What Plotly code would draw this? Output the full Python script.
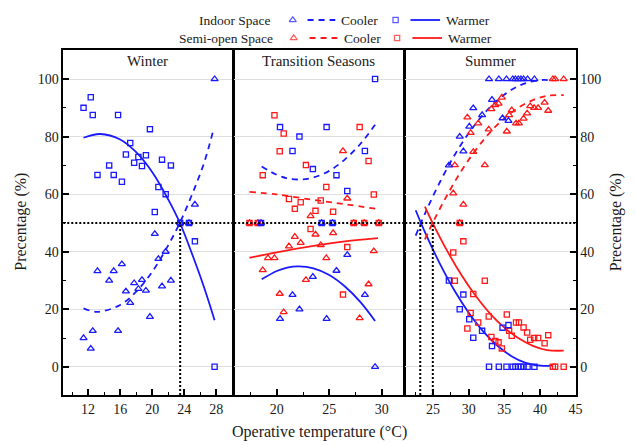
import plotly.graph_objects as go

W, H = 636, 445
BLUE = "#1a1aff"
RED = "#ff1a1a"
FONT = "Liberation Serif"

# ---------------- Winter (indoor space only) ----------------
win_t = [11.43, 12.33, 12.58, 13.17, 14.63, 15.2, 15.74, 16.22, 16.72, 17.26, 17.75,
         18.28, 18.73, 19.22, 19.72, 20.33, 20.78, 21.23, 21.69, 22.34, 23.5, 24.6, 25.34, 27.8]
win_in_warm = [90.0, 93.7, 87.5, 66.7, 70.0, 66.7, 87.5, 64.3, 73.8, 77.8, 70.9,
               72.9, 69.8, 73.5, 82.6, 53.8, 62.5, 72.0, 60.0, 70.0, 50.0, 50.0, 43.6, 0.0]
win_in_cool = [10.0, 6.3, 12.5, 33.3, 30.0, 33.3, 12.5, 35.7, 26.2, 22.2, 29.1,
               27.1, 30.2, 26.5, 17.4, 46.2, 37.5, 28.0, 40.0, 30.0, 50.0, 50.0, 56.4, 100.0]

win_fit_t = [11.43, 13.5, 16.0, 18.0, 20.0, 22.0, 23.5, 25.0, 26.5, 27.8]
win_fit_warm = [79.6, 80.9, 79.0, 74.6, 67.7, 58.2, 49.8, 39.1, 27.5, 16.2]
win_fit_cool_t = [11.43, 13.15, 16.0, 18.0, 20.0, 22.0, 23.5, 25.0, 26.5, 27.64]
win_fit_cool = [20.3, 19.1, 21.5, 26.1, 33.0, 42.2, 50.3, 60.0, 71.0, 82.2]

# ---------------- Transition seasons ----------------
tr_in_t = [18.5, 20.31, 21.5, 22.16, 23.44, 24.28, 24.75, 25.31, 25.69, 26.72, 28.4, 29.37]
tr_in_warm = [50.0, 83.3, 75.0, 80.0, 68.7, 50.0, 83.3, 50.0, 66.6, 61.1, 75.0, 100.0]
tr_in_cool = [50.0, 16.7, 25.0, 20.0, 31.3, 50.0, 16.7, 50.0, 33.4, 38.9, 25.0, 0.0]

tr_so_warm_t = [17.4, 18.19, 18.66, 19.78, 20.28, 20.66, 21.16, 21.72, 22.28, 22.78, 23.22,
                23.69, 24.19, 24.72, 25.37, 26.31, 26.72, 27.34, 27.9, 28.34, 28.75, 29.25, 29.72]
tr_so_warm = [50.0, 50.0, 66.6, 87.4, 74.9, 81.1, 58.3, 54.9, 57.2, 70.1, 47.9,
              54.2, 57.8, 62.5, 53.9, 25.1, 41.6, 50.0, 83.3, 50.0, 71.5, 59.9, 50.0]
tr_so_cool_t = [17.4, 18.19, 18.66, 19.16, 19.78, 20.28, 20.66, 21.16, 21.72, 22.28, 22.78,
                23.22, 23.69, 24.19, 24.72, 25.37, 26.31, 26.72, 27.34, 27.9, 28.34, 28.75,
                29.25, 29.72]
tr_so_cool = [50.0, 50.0, 33.6, 37.8, 37.8, 25.4, 19.0, 41.9, 45.2, 43.1, 30.2,
              52.4, 46.0, 42.3, 37.8, 46.5, 75.0, 58.5, 50.0, 16.9, 50.0, 28.7,
              40.2, 50.0]

tr_fit_in_t = [18.56, 20.0, 21.0, 22.1, 23.5, 25.0, 26.5, 28.0, 29.37]
tr_fit_in_warm = [30.4, 33.3, 34.5, 34.9, 34.2, 31.9, 27.9, 22.4, 15.9]
tr_fit_in_cool = [69.6, 66.7, 65.5, 65.1, 65.8, 68.1, 72.1, 77.6, 84.1]
tr_fit_so_t = [17.4, 20.0, 23.5, 26.5, 29.65]
tr_fit_so_warm = [37.9, 39.8, 42.0, 43.6, 44.7]
tr_fit_so_cool = [60.8, 59.9, 58.0, 56.5, 54.8]

# ---------------- Summer ----------------
su_in_t = [27.22, 28.74, 29.25, 30.08, 30.64, 31.88, 32.85, 33.27, 34.23, 34.75, 35.3,
           35.58, 36.18, 36.55, 36.96, 37.33, 37.7, 38.26, 39.22]
su_in_warm = [30.0, 20.0, 25.1, 16.5, 10.1, 12.5, 0.0, 7.2, 0.0, 13.6, 0.0,
              14.5, 0.0, 0.0, 0.0, 0.0, 0.0, 0.0, 0.0]
su_in_cool = [70.0, 80.0, 74.9, 83.5, 89.9, 87.5, 100.0, 92.8, 100.0, 86.4, 100.0,
              85.5, 100.0, 100.0, 100.0, 100.0, 100.0, 100.0, 100.0]

su_so_t = [27.83, 28.05, 28.74, 29.25, 29.81, 30.27, 30.64, 31.33, 32.26, 32.81, 33.18,
           33.73, 34.19, 34.65, 35.35, 35.67, 36.04, 36.64, 37.05, 37.7, 38.2, 38.63,
           39.18, 39.74, 40.65, 41.16, 41.81, 42.13, 43.33]
su_so_cool = [60.3, 70.1, 50.0, 56.4, 86.7, 81.3, 74.7, 84.6, 70.1, 82.5, 89.6,
              91.0, 91.5, 93.6, 81.8, 87.5, 89.2, 84.6, 84.6, 86.3, 88.1, 90.6,
              90.0, 90.0, 91.8, 89.0, 100.0, 100.0, 100.0]
su_so_warm = [39.7, 29.9, 50.0, 43.6, 13.3, 18.7, 25.3, 15.4, 29.9, 17.5, 10.4,
              9.0, 8.5, 6.4, 18.2, 12.5, 10.8, 15.4, 15.4, 13.7, 11.9, 9.4,
              10.0, 10.0, 8.2, 11.0, 0.0, 0.0, 0.0]

su_fit_in_t = [22.56, 24.0, 26.0, 28.0, 30.0, 32.0, 34.0, 36.0, 38.0, 40.5, 41.8]
su_fit_in_warm = [54.4, 46.0, 35.6, 26.5, 18.8, 12.4, 7.4, 3.7, 1.4, 0.3, 0.6]
su_fit_in_cool = [45.6, 54.0, 64.4, 73.5, 81.2, 87.6, 92.6, 96.3, 98.6, 99.7, 99.4]
su_fit_so_t = [23.85, 25.0, 27.0, 29.0, 31.0, 33.0, 35.0, 37.0, 39.0, 41.0, 43.33]
su_fit_so_warm = [55.7, 49.7, 40.2, 31.8, 24.6, 18.5, 13.6, 9.9, 7.3, 5.8, 5.6]
su_fit_so_cool = [44.3, 50.3, 59.8, 68.2, 75.4, 81.5, 86.4, 90.1, 92.7, 94.2, 94.4]

# temperatures where the 50 % line is crossed
neutral_lines = {1: [23.5], 3: [23.2, 24.96]}

panel_titles = ["Winter", "Transition Seasons", "Summer"]
y_ticks = [0, 20, 40, 60, 80, 100]

# ---------------- geometry (pixels) ----------------
LW = 1.6  # frame line width; neighbouring frames share one line
PX = [(64, 236 - LW / 2), (236 + LW / 2, 409 - LW / 2), (409 + LW / 2, 582)]
PY = (50, 395)
x_ranges = [[8.9, 30.05], [15.94, 32.1], [21.1, 45.0]]
y_range = [-9.8, 110.1]

SQ_SIZE, TRI_SIZE, MK_LW = 5.2, 6.2, 1.3

fig = go.Figure()


def axname(i, kind):
    return kind if i == 1 else f"{kind}{i}"


def scatter(i, x, y, symbol, color):
    fig.add_trace(go.Scatter(
        x=x, y=y, mode="markers", xaxis=axname(i, "x"), yaxis=axname(i, "y"),
        marker=dict(symbol=symbol, size=SQ_SIZE if "square" in symbol else TRI_SIZE,
                    color=color, line=dict(color=color, width=MK_LW)),
        showlegend=False, hoverinfo="skip"))


def curve(i, x, y, color, dash):
    fig.add_trace(go.Scatter(
        x=x, y=y, mode="lines", xaxis=axname(i, "x"), yaxis=axname(i, "y"),
        line=dict(color=color, width=1.8, dash=dash, shape="spline", smoothing=1.0),
        showlegend=False, hoverinfo="skip"))


DASH = "6px,5px"

# Winter
curve(1, win_fit_t, win_fit_warm, BLUE, "solid")
curve(1, win_fit_cool_t, win_fit_cool, BLUE, DASH)
scatter(1, win_t, win_in_warm, "square-open", BLUE)
scatter(1, win_t, win_in_cool, "triangle-up-open", BLUE)

# Transition
curve(2, tr_fit_in_t, tr_fit_in_warm, BLUE, "solid")
curve(2, tr_fit_in_t, tr_fit_in_cool, BLUE, DASH)
curve(2, tr_fit_so_t, tr_fit_so_warm, RED, "solid")
curve(2, tr_fit_so_t, tr_fit_so_cool, RED, DASH)
scatter(2, tr_so_warm_t, tr_so_warm, "square-open", RED)
scatter(2, tr_so_cool_t, tr_so_cool, "triangle-up-open", RED)
scatter(2, tr_in_t, tr_in_warm, "square-open", BLUE)
scatter(2, tr_in_t, tr_in_cool, "triangle-up-open", BLUE)

# Summer
curve(3, su_fit_in_t, su_fit_in_warm, BLUE, "solid")
curve(3, su_fit_in_t, su_fit_in_cool, BLUE, DASH)
curve(3, su_fit_so_t, su_fit_so_warm, RED, "solid")
curve(3, su_fit_so_t, su_fit_so_cool, RED, DASH)
scatter(3, su_so_t, su_so_warm, "square-open", RED)
scatter(3, su_so_t, su_so_cool, "triangle-up-open", RED)
scatter(3, su_in_t, su_in_warm, "square-open", BLUE)
scatter(3, su_in_t, su_in_cool, "triangle-up-open", BLUE)

tickfont = dict(family=FONT, size=14, color="#1a1a1a")
layout = dict(width=W, height=H, margin=dict(l=0, r=0, t=0, b=0),
              paper_bgcolor="white", plot_bgcolor="rgba(0,0,0,0)", showlegend=False)

x_ticks = [dict(tick0=12, dtick=4, minor=2), dict(tick0=20, dtick=5, minor=2.5),
           dict(tick0=25, dtick=5, minor=2.5)]

y0 = 1 - PY[1] / H
y1 = 1 - PY[0] / H
for i in range(1, 4):
    x0p, x1p = PX[i - 1]
    xt = x_ticks[i - 1]
    layout[f"xaxis{'' if i == 1 else i}"] = dict(
        domain=[x0p / W, x1p / W], range=x_ranges[i - 1], anchor=axname(i, "y"),
        showgrid=False, zeroline=False, showline=True, linecolor="black", linewidth=LW,
        mirror=True, ticks="inside", ticklen=6, tickwidth=1.5, tickcolor="black",
        tick0=xt["tick0"], dtick=xt["dtick"], tickfont=tickfont,
        minor=dict(dtick=xt["minor"], tick0=xt["tick0"], ticks="inside", ticklen=3,
                   tickwidth=1.2, tickcolor="black", showgrid=False),
        fixedrange=True)
    yax = dict(
        domain=[y0, y1], range=y_range, anchor=axname(i, "x"),
        showgrid=True, gridcolor="#dedede", gridwidth=1.2, zeroline=False,
        showline=True, linecolor="black", linewidth=LW, mirror=True,
        tickvals=y_ticks, tickfont=tickfont, fixedrange=True)
    if i == 1:
        yax.update(ticks="inside", ticklen=6, tickwidth=1.5, tickcolor="black",
                   side="left", showticklabels=True,
                   minor=dict(dtick=10, tick0=0, ticks="inside", ticklen=3,
                              tickwidth=1.2, tickcolor="black", showgrid=False))
    elif i == 3:
        yax.update(ticks="inside", ticklen=6, tickwidth=1.5, tickcolor="black",
                   side="right", showticklabels=True,
                   minor=dict(dtick=10, tick0=0, ticks="inside", ticklen=3,
                              tickwidth=1.2, tickcolor="black", showgrid=False))
    else:
        yax.update(ticks="", showticklabels=False)
    layout[f"yaxis{'' if i == 1 else i}"] = yax

# pixel-unit axes spanning the page, used for the key glyphs above the panels
layout["xaxis4"] = dict(domain=[0, 1], range=[0, W], visible=False, fixedrange=True,
                        anchor="y4")
layout["yaxis4"] = dict(domain=[0, 1], range=[H, 0], visible=False, fixedrange=True,
                        anchor="x4")

fig.update_layout(**layout)

shapes = []
annotations = []

# 50 % reference line and neutral temperatures
for i in range(1, 4):
    shapes.append(dict(type="line", xref=f"{axname(i, 'x')} domain", yref=axname(i, "y"),
                       x0=0, x1=1, y0=50, y1=50,
                       line=dict(color="black", width=2, dash="2px,2px")))
for i, temps in neutral_lines.items():
    for t in temps:
        shapes.append(dict(type="line", xref=axname(i, "x"), yref=axname(i, "y"),
                           x0=t, x1=t, y0=y_range[0], y1=50,
                           line=dict(color="black", width=2, dash="2px,2px")))

# panel titles
for i, title in enumerate(panel_titles, start=1):
    annotations.append(dict(text=title, xref=f"{axname(i, 'x')} domain",
                            yref="paper", x=0.5, y=1 - 61 / H, showarrow=False,
                            xanchor="center", yanchor="middle",
                            font=dict(family=FONT, size=15, color="#1a1a1a")))

# axis titles
annotations.append(dict(text="Operative temperature (°C)", xref="paper", yref="paper",
                        x=323 / W, y=1 - 432 / H, showarrow=False, xanchor="center",
                        yanchor="middle", font=dict(family=FONT, size=16, color="#1a1a1a")))
for xp in (21, 623):
    annotations.append(dict(text="Precentage (%)", xref="paper", yref="paper",
                            x=xp / W, y=1 - 222 / H, showarrow=False, textangle=-90,
                            xanchor="center", yanchor="middle",
                            font=dict(family=FONT, size=16, color="#1a1a1a")))

# key
key_rows = [
    dict(label="Indoor Space", color=BLUE, y=20, text_r=276, tri=296, dash=(311, 339),
         cool=343, sq=400, solid=(415, 445), warm=449),
    dict(label="Semi-open Space", color=RED, y=38, text_r=278, tri=297, dash=(313, 341),
         cool=346, sq=401.5, solid=(417, 447), warm=451),
]
keyfont = dict(family=FONT, size=13.5, color="#1a1a1a")
for row in key_rows:
    yp = 1 - row["y"] / H
    annotations.append(dict(text=row["label"], xref="paper", yref="paper",
                            x=row["text_r"] / W, y=yp, xanchor="right", yanchor="middle",
                            showarrow=False, font=keyfont))
    annotations.append(dict(text="Cooler", xref="paper", yref="paper", x=row["cool"] / W,
                            y=yp, xanchor="left", yanchor="middle", showarrow=False,
                            font=keyfont))
    annotations.append(dict(text="Warmer", xref="paper", yref="paper", x=row["warm"] / W,
                            y=yp, xanchor="left", yanchor="middle", showarrow=False,
                            font=keyfont))
    shapes.append(dict(type="line", xref="paper", yref="paper", x0=row["dash"][0] / W,
                       x1=row["dash"][1] / W, y0=yp, y1=yp,
                       line=dict(color=row["color"], width=1.8, dash=DASH)))
    shapes.append(dict(type="line", xref="paper", yref="paper", x0=row["solid"][0] / W,
                       x1=row["solid"][1] / W, y0=yp, y1=yp,
                       line=dict(color=row["color"], width=1.8)))
    fig.add_trace(go.Scatter(
        x=[row["tri"], row["sq"]], y=[row["y"], row["y"]], mode="markers",
        xaxis="x4", yaxis="y4", showlegend=False, hoverinfo="skip",
        marker=dict(symbol=["triangle-up-open", "square-open"], size=[TRI_SIZE, SQ_SIZE],
                    color=row["color"], line=dict(color=row["color"], width=MK_LW))))

fig.update_layout(shapes=shapes, annotations=annotations)
fig.write_html("out.html")
